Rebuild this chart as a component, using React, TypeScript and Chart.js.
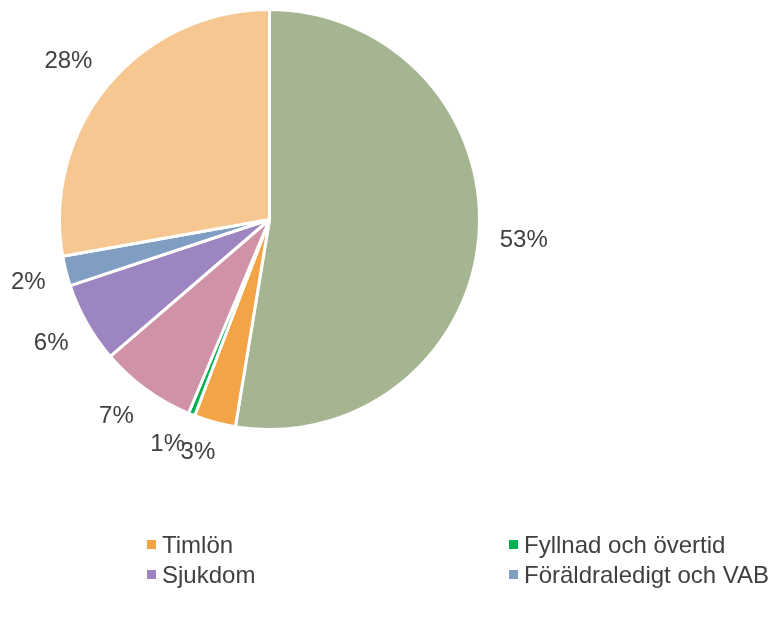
import React, { useEffect, useRef } from "react";
import { Chart, registerables } from "chart.js";

Chart.register(...registerables);

const categories = [
  "Månadslön",
  "Timlön",
  "Fyllnad och övertid",
  "Semester",
  "Sjukdom",
  "Föräldraledigt och VAB",
  "Övrigt",
];
const values = [52.6, 3.2, 0.5, 7.4, 6.2, 2.3, 27.8];
const colors = ["#A5B592", "#F3A447", "#00B050", "#D092A7", "#9C85C0", "#809EC2", "#F7C791"];
const legendShown = ["Timlön", "Fyllnad och övertid", "Sjukdom", "Föräldraledigt och VAB"];

const FONT = '"Liberation Sans", Arial, sans-serif';
const TEXT = "#404040";

const clampUnit = (v: number) => Math.max(-1, Math.min(1, v));

const outsideLabels = {
  id: "outsideLabels",
  afterDatasetsDraw(chart: any) {
    const ctx = chart.ctx;
    const meta = chart.getDatasetMeta(0);
    const data = chart.data.datasets[0].data as number[];
    const total = data.reduce((a, b) => a + b, 0);
    ctx.save();
    ctx.font = `24px ${FONT}`;
    ctx.fillStyle = TEXT;
    ctx.textAlign = "center";
    ctx.textBaseline = "middle";
    meta.data.forEach((arc: any, i: number) => {
      const { x, y, startAngle, endAngle, outerRadius } = arc.getProps(
        ["x", "y", "startAngle", "endAngle", "outerRadius"],
        true
      );
      const mid = (startAngle + endAngle) / 2;
      const pct = Math.round((data[i] / total) * 100);
      const txt = pct + "%";
      const w = ctx.measureText(txt).width;
      const r = outerRadius * 1.1;
      const c = Math.cos(mid);
      const s = Math.sin(mid);
      const lx = x + c * r + clampUnit(c * 2.5) * (w / 2);
      const ly = y + s * r + clampUnit(s * 2.5) * 10;
      ctx.fillText(txt, lx, ly);
    });
    ctx.restore();
  },
};

const customLegend = {
  id: "customLegend",
  afterDraw(chart: any) {
    const ctx = chart.ctx;
    const ds = chart.data.datasets[0];
    const cols = [147, 509];
    const rows = [545, 575];
    ctx.save();
    ctx.font = `24px ${FONT}`;
    ctx.textBaseline = "middle";
    ctx.textAlign = "left";
    legendShown.forEach((name, k) => {
      const idx = chart.data.labels.indexOf(name);
      const cx = cols[k % 2];
      const cy = rows[Math.floor(k / 2)];
      ctx.fillStyle = ds.backgroundColor[idx];
      ctx.fillRect(cx, cy - 5, 9, 9);
      ctx.fillStyle = TEXT;
      ctx.fillText(name, cx + 15, cy + 1);
    });
    ctx.restore();
  },
};

export default function App() {
  const ref = useRef<HTMLCanvasElement>(null);
  useEffect(() => {
    document.body.style.margin = "0";
    const chart = new Chart(ref.current!, {
      type: "pie",
      data: {
        labels: categories,
        datasets: [
          {
            data: values,
            backgroundColor: colors,
            borderColor: "#FFFFFF",
            borderWidth: 3,
          },
        ],
      },
      options: {
        animation: false,
        responsive: false,
        events: [],
        layout: { padding: { left: 58, right: 291, top: 8, bottom: 187 } },
        plugins: {
          legend: { display: false },
          tooltip: { enabled: false },
        },
      },
      plugins: [outsideLabels, customLegend],
    });
    return () => chart.destroy();
  }, []);
  return (
    <div style={{ width: 772, height: 618, background: "#fff" }}>
      <canvas ref={ref} width={772} height={618} style={{ display: "block" }} />
    </div>
  );
}
